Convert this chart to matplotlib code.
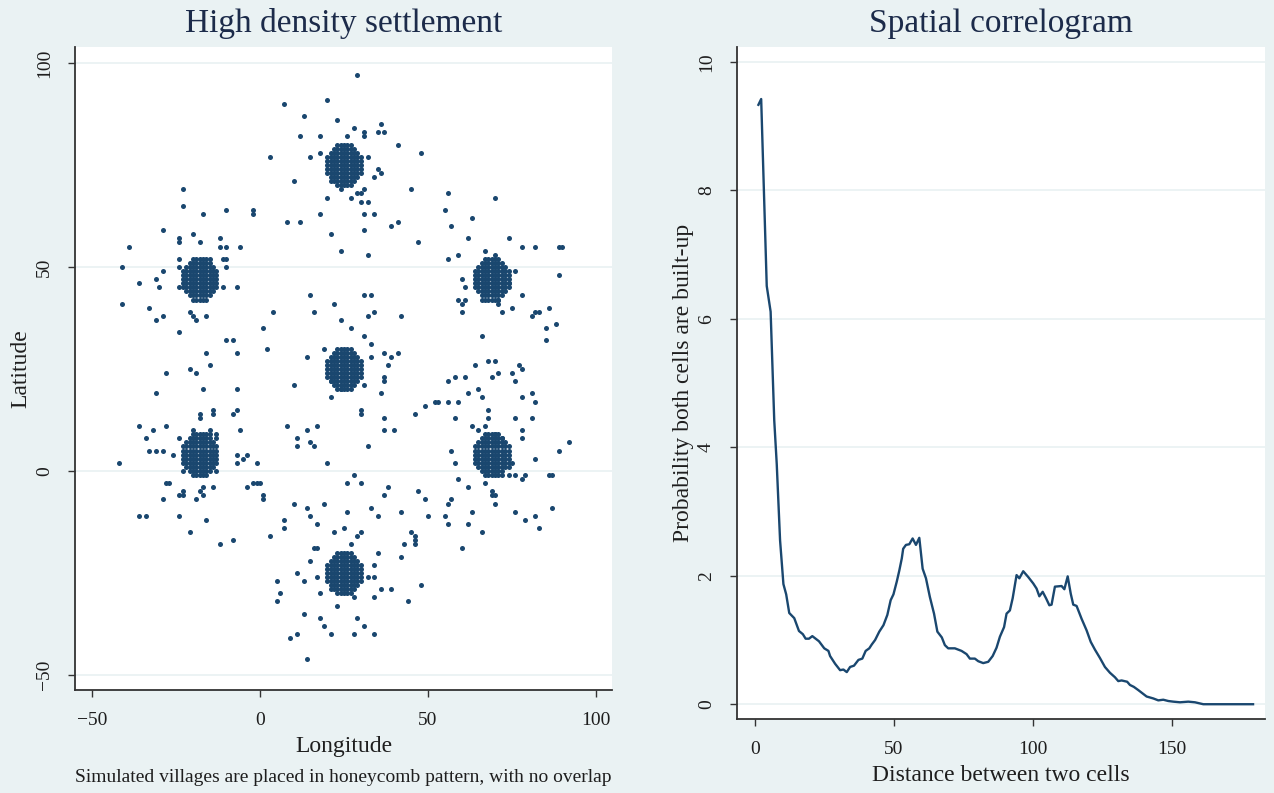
import matplotlib
matplotlib.use("Agg")
import matplotlib.pyplot as plt
import numpy as np

# ---------------- data: left panel (settlement map) ----------------
# village centres (dense built-up blobs) and the row profile of each blob
cluster_x = [-18, 25, 69, -18, 25, 69, 25]
cluster_y = [47, 75, 47, 4, 25, 4, -25]
cluster_row_halfwidth = [2, 3, 4, 5, 5, 5, 5, 5, 4, 3, 2]   # rows from top (+5) to bottom (-5)

# scattered built-up cells
scatter_x = [
    -23, -23, -17, -10, -2, -2, -29, -20, -24, -24, -12, -18, -39, -12, -10, -6, -24, -15, -11, -10, -41, -29, -24, -10,
    29, 7, 20, 13, 23, 36, 28, 31, 35, 37, 12, 18, 26, 31, 41, 48, 3, 15, 18, 32, 35, 36, 34, 10, 21, 24, 31, 45, 29, 30,
    20, 27, 30, 32, 18, 31, 34, 8, 12, 31, 39, 41, 21, 47, 24, 32,
    56, 70, 55, 63, 57, 62, 74, 78, 82, 89, 90, 67, 70, 59, 56, 76, 89,
    -31, -36, -30, -24, -11, -7, -41, -33, -21, -20, -19, -29, -31, -16, -24, -10, -8, -16, -7, -15, -28, -21, -19, -31,
    -17, -7, -14, -14, -18, -18, -7, -8, -36, -28, -32, -20, -15, -6, -15, -13, -34, -24, -13, -33, -31, -29, -26, -7,
    -4, -5, -7, -42, -23, -13, -28, -27, -17, -14, -4, -2,
    15, 31, 33, 22, 4, 16, 34, 32, 42, 24, 1, 27, 31, 33, 2, 19, 14, 33, 37, 41, 39, 38, 37, 37, 21, 10, 31, 24, 36, 21,
    49, 46, 30, 30, 37, 8, 14, 17, 37, 40, 11, 15, 11, 16, 32, -1, 20, -1, 0, 28, 26, 30,
    60, 61, 74, 78, 59, 61, 66, 71, 60, 71, 60, 72, 75, 82, 83, 81, 86, 88, 85, 85, 66, 68, 70, 64, 77, 75, 78, 71, 58,
    61, 69, 56, 76, 65, 62, 81, 66, 78, 52, 53, 56, 59, 82, 68, 58, 68, 76, 81, 63, 67, 65, 78, 78, 70, 72, 92, 89, 57,
    82, 58, 75, 74, 72, 74, 76, 79, 86, 87, 78, 59, 67, 62,
    -23, -24, -23, -18, -17, -29, -19, -36, -34, -24, -16, -21, -12, -8,
    1, 1, 38, 37, 47, 49, 50, 10, 14, 19, 33, 26, 15, 35, 42, 7, 7, 17, 3, 22, 25, 30, 29, 45, 46, 46, 46, 43, 27, 16,
    17, 35, 42, 15, 34, 11, 17, 13, 5, 32, 34, 48, 6, 5, 18, 21, 28, 34, 36, 39, 44, 23, 13, 18, 29, 19, 31, 11, 21, 28,
    34, 9, 14,
    69, 69, 70, 70, 57, 56, 55, 63, 56, 62, 66, 60, 76, 79, 82, 83, 87,
]
scatter_y = [
    69, 65, 63, 64, 64, 63, 59, 58, 57, 56, 57, 56, 55, 55, 55, 55, 52, 52, 52, 52, 50, 49, 50, 50,
    97, 90, 91, 87, 86, 85, 84, 83, 83, 83, 82, 82, 82, 82, 80, 78, 77, 77, 78, 77, 74, 73, 72, 71, 71, 69, 69, 69, 68, 68,
    67, 67, 66, 66, 63, 63, 63, 61, 61, 59, 60, 61, 58, 56, 54, 53,
    68, 67, 64, 62, 60, 57, 57, 55, 55, 55, 55, 54, 53, 53, 52, 49, 48,
    47, 46, 45, 45, 45, 45, 41, 40, 39, 38, 37, 38, 37, 38, 34, 32, 32, 29, 29, 26, 24, 25, 24, 19,
    20, 20, 15, 14, 14, 13, 15, 14, 11, 11, 10, 10, 10, 10, 9, 9, 8, 8, 8, 5, 5, 5, 4, 4,
    4, 3, 2, 2, 0, 0, -3, -3, -4, -4, -4, -3,
    43, 43, 43, 41, 39, 39, 39, 38, 38, 37, 35, 35, 33, 31, 30, 30, 28, 28, 29, 29, 28, 26, 23, 22, 22, 21, 21, 20, 19, 18,
    16, 14, 15, 14, 13, 11, 10, 11, 10, 10, 8, 7, 6, 6, 6, 2, 2, -3, -3, -1, -3, -3,
    47, 45, 46, 43, 42, 42, 42, 42, 41, 41, 39, 39, 40, 39, 39, 38, 40, 36, 35, 32, 33, 27, 27, 26, 26, 24, 25, 24, 23,
    23, 23, 22, 22, 20, 19, 19, 18, 18, 17, 17, 17, 17, 17, 15, 13, 13, 13, 13, 11, 11, 10, 10, 8, 9, 8, 7, 5, 5,
    3, 2, 2, 1, -1, -1, -1, -1, -1, -1, -2, -2, -3, -4,
    -5, -6, -6, -5, -6, -7, -7, -11, -11, -11, -12, -15, -18, -17,
    -6, -7, -4, -6, -5, -7, -11, -8, -9, -8, -9, -10, -11, -11, -10, -12, -14, -13, -16, -15, -14, -15, -16, -15, -16, -17, -18, -18, -18, -19,
    -19, -20, -21, -22, -23, -25, -26, -27, -27, -26, -26, -28, -30, -32, -30, -29, -31, -31, -29, -29, -32, -33, -35, -36, -36, -38, -38, -40, -40, -40,
    -40, -41, -46,
    -5, -6, -6, -8, -7, -8, -11, -10, -13, -13, -15, -19, -10, -12, -11, -14, -9,
]

# ---------------- data: right panel (spatial correlogram) ----------------
distance = [1.2, 2.2, 4.2, 5.6, 6.9, 7.8, 9.0, 10.2, 11.2, 12.3, 14.1, 15.8, 17.2, 18.2, 19.4, 20.6, 21.8, 23.0,
            24.9, 26.4, 27.0, 28.8, 30.6, 31.8, 33.0, 34.2, 35.6, 37.2, 38.6, 39.8, 41.1, 42.0, 43.2, 44.7, 46.2,
            47.6, 48.8, 49.8, 51.0, 51.9, 52.8, 53.3, 54.3, 55.5, 56.7, 57.9, 59.1, 60.3, 61.5, 62.9, 64.4, 65.6,
            67.2, 68.3, 69.5, 71.9, 74.3, 76.1, 77.3, 79.1, 80.3, 82.1, 83.9, 85.5, 86.9, 88.1, 89.6, 90.5, 91.7,
            92.7, 94.1, 95.1, 96.5, 98.3, 100.1, 101.3, 102.3, 103.5, 104.7, 105.9, 106.7, 107.9, 110.3, 111.3,
            112.5, 113.6, 114.5, 115.7, 117.5, 119.3, 120.8, 122.3, 124.1, 125.9, 127.7, 129.5, 130.7, 131.9,
            133.9, 134.9, 136.3, 137.9, 139.1, 140.9, 143.3, 145.1, 146.9, 148.7, 150.5, 152.9, 155.9, 158.3,
            161.3, 179.2]
probability = [9.33, 9.42, 6.51, 6.11, 4.42, 3.74, 2.55, 1.87, 1.71, 1.42, 1.34, 1.14, 1.09, 1.02, 1.02, 1.06, 1.02,
               0.98, 0.87, 0.83, 0.75, 0.63, 0.53, 0.54, 0.50, 0.58, 0.60, 0.69, 0.71, 0.83, 0.87, 0.93, 1.00, 1.13,
               1.23, 1.39, 1.62, 1.71, 1.91, 2.08, 2.27, 2.42, 2.48, 2.49, 2.58, 2.48, 2.59, 2.11, 1.96, 1.67, 1.41,
               1.13, 1.04, 0.92, 0.87, 0.87, 0.83, 0.78, 0.71, 0.71, 0.67, 0.64, 0.66, 0.75, 0.88, 1.05, 1.20, 1.41,
               1.46, 1.65, 2.01, 1.96, 2.07, 1.98, 1.88, 1.80, 1.68, 1.75, 1.65, 1.54, 1.55, 1.83, 1.84, 1.79, 1.99,
               1.72, 1.55, 1.53, 1.33, 1.15, 0.97, 0.85, 0.72, 0.58, 0.49, 0.42, 0.36, 0.37, 0.35, 0.30, 0.27, 0.22,
               0.18, 0.12, 0.09, 0.06, 0.07, 0.05, 0.04, 0.03, 0.04, 0.03, 0.0, 0.0]

left_xticks = [-50, 0, 50, 100]
left_yticks = [-50, 0, 50, 100]
right_xticks = [0, 50, 100, 150]
right_yticks = [0, 2, 4, 6, 8, 10]

# ---------------- style ----------------
BG = "#eaf2f3"
NAVY = "#1a476f"
GRID = "#eaf2f3"
AXIS = "#333333"
TXT = "#1e1e1e"
FONT = ["Liberation Serif", "DejaVu Serif"]
plt.rcParams["font.family"] = FONT

W, H = 1274, 793
fig = plt.figure(figsize=(W / 100, H / 100), dpi=100, facecolor=BG)


def frac(x0, x1, ytop, ybot):
    return [x0 / W, 1 - ybot / H, (x1 - x0) / W, (ybot - ytop) / H]


def style(ax):
    ax.set_facecolor("white")
    for s in ["top", "right"]:
        ax.spines[s].set_visible(False)
    for s in ["left", "bottom"]:
        ax.spines[s].set_color(AXIS)
        ax.spines[s].set_linewidth(1.3)
    ax.tick_params(axis="both", direction="out", length=5, width=1.0, color=AXIS,
                   labelsize=14, labelcolor=TXT, pad=11)
    ax.grid(axis="y", color=GRID, linewidth=1.3)
    ax.set_axisbelow(True)
    for lab in ax.get_yticklabels():
        lab.set_rotation(90)
        lab.set_va("center")


# ----- left panel -----
ax1 = fig.add_axes(frac(75, 612, 47, 690))
gx, gy = [], []
for cx, cy in zip(cluster_x, cluster_y):
    for i, hw in enumerate(cluster_row_halfwidth):
        dy = 5 - i
        for dx in range(-hw, hw + 1):
            gx.append(cx + dx)
            gy.append(cy + dy)
ax1.scatter(gx, gy, s=13, color=NAVY, linewidths=0)
ax1.scatter(scatter_x, scatter_y, s=13, color=NAVY, linewidths=0)
ax1.set_xlim(-55.1, 104.8)
ax1.set_ylim(-53.7, 103.9)
ax1.set_xticks(left_xticks)
ax1.set_yticks(left_yticks)
style(ax1)
ax1.set_xlabel("Longitude", fontsize=17, color=TXT, labelpad=5)
ax1.set_ylabel("Latitude", fontsize=17, color=TXT, labelpad=3)
ax1.set_title("High density settlement", fontsize=24, color="#1c2b4a", pad=11)
fig.text(343 / W, 1 - 777 / H, "Simulated villages are placed in honeycomb pattern, with no overlap",
         ha="center", va="center", fontsize=14, color=TXT)

# ----- right panel -----
ax2 = fig.add_axes(frac(737, 1265, 47, 719))
ax2.plot(distance, probability, color=NAVY, linewidth=1.7)
ax2.set_xlim(-6.5, 183.5)
ax2.set_ylim(-0.23, 10.23)
ax2.set_xticks(right_xticks)
ax2.set_yticks(right_yticks)
style(ax2)
ax2.set_xlabel("Distance between two cells", fontsize=17, color=TXT, labelpad=5)
ax2.set_ylabel("Probability both cells are built-up", fontsize=17, color=TXT, labelpad=3)
ax2.set_title("Spatial correlogram", fontsize=24, color="#1c2b4a", pad=11)

fig.savefig("out.png", dpi=100, facecolor=BG)
